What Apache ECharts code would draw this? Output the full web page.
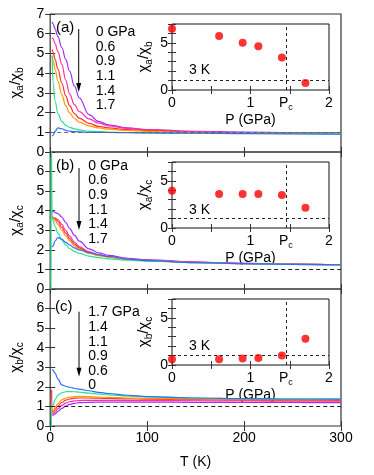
<!DOCTYPE html>
<html><head><meta charset="utf-8">
<script src="https://cdn.jsdelivr.net/npm/echarts@6/dist/echarts.min.js"></script>
<style>html,body{margin:0;padding:0;background:#fff}#c{width:374px;height:475px}</style>
</head><body><div id="c"></div>
<script>
// ---------- DATA ----------
const T = [2,3,5,8,12,16,20,25,30,40,50,60,80,100,150,200,250,300];
const legendA = ['0 GPa','0.6','0.9','1.1','1.4','1.7'];
const legendC = ['1.7 GPa','1.4','1.1','0.9','0.6','0'];
// panel (a) chi_a/chi_b
const a_00 = [6.6,6.5,6.25,5.85,5.3,4.7,4.1,3.35,2.75,1.9,1.55,1.38,1.22,1.14,1.05,1.01,0.99,0.98];
const a_06 = [5.8,5.75,5.5,5.1,4.45,3.65,2.95,2.4,2.05,1.68,1.46,1.33,1.2,1.12,1.03,0.99,0.97,0.96];
const a_09 = [5.2,5.05,4.7,4.2,3.5,2.85,2.35,1.95,1.72,1.45,1.3,1.22,1.13,1.08,1.0,0.97,0.96,0.95];
const a_11 = [4.9,4.65,4.2,3.6,2.9,2.35,1.98,1.7,1.52,1.33,1.22,1.16,1.09,1.05,0.98,0.96,0.95,0.94];
const a_14 = [4.9,3.5,2.6,1.95,1.55,1.35,1.25,1.17,1.12,1.06,1.03,1.01,0.99,0.97,0.95,0.94,0.93,0.93];
const a_17 = [0.8,0.85,1.05,1.22,1.18,1.1,1.06,1.04,1.02,1.0,1.0,0.99,0.98,0.97,0.95,0.93,0.92,0.9];
// panel (b) chi_a/chi_c
const b_00 = [3.96,3.95,3.92,3.85,3.68,3.4,3.1,2.75,2.45,2.05,1.85,1.72,1.57,1.49,1.38,1.31,1.27,1.24];
const b_06 = [3.7,3.65,3.62,3.55,3.3,3.0,2.7,2.4,2.17,1.9,1.76,1.66,1.54,1.47,1.37,1.31,1.27,1.24];
const b_09 = [3.7,3.64,3.58,3.45,3.15,2.85,2.57,2.3,2.1,1.86,1.73,1.64,1.53,1.46,1.36,1.3,1.26,1.24];
const b_11 = [3.65,3.62,3.5,3.3,3.0,2.72,2.47,2.22,2.04,1.82,1.7,1.62,1.51,1.45,1.35,1.3,1.26,1.24];
const b_14 = [3.65,3.5,3.2,2.85,2.5,2.25,2.07,1.92,1.82,1.68,1.6,1.54,1.47,1.42,1.34,1.29,1.26,1.24];
const b_17 = [2.14,2.2,2.45,2.63,2.55,2.38,2.25,2.1,2.0,1.86,1.75,1.66,1.53,1.45,1.35,1.3,1.26,1.24];
const b_14_lowT = [[0.8,-1],[1.2,8]];
// panel (c) chi_b/chi_c
const c_00 = [0.55,0.56,0.62,0.75,0.9,1.02,1.1,1.16,1.19,1.21,1.22,1.22,1.22,1.22,1.21,1.2,1.2,1.19];
const c_06 = [0.62,0.64,0.72,0.88,1.05,1.17,1.24,1.28,1.3,1.31,1.31,1.31,1.3,1.3,1.29,1.28,1.27,1.27];
const c_09 = [0.7,0.72,0.85,1.02,1.2,1.32,1.38,1.42,1.43,1.43,1.42,1.41,1.39,1.37,1.35,1.33,1.32,1.31];
const c_11 = [0.65,0.75,0.95,1.15,1.33,1.43,1.48,1.5,1.51,1.5,1.48,1.46,1.43,1.41,1.38,1.36,1.35,1.34];
const c_14 = [0.98,1.05,1.35,1.58,1.7,1.75,1.76,1.75,1.73,1.68,1.63,1.59,1.53,1.49,1.43,1.4,1.38,1.37];
const c_17 = [2.89,2.85,2.7,2.4,2.1,2.03,1.98,1.93,1.88,1.8,1.72,1.66,1.57,1.5,1.43,1.4,1.38,1.37];
const c_14_lowT = [[1.0,-1],[1.5,0.98]];
const c_09_lowT = [[1.5,1.85],[1.8,0.9]];
// insets at 3 K
const P = [0,0.6,0.9,1.1,1.4,1.7];
const Pc = 1.45;
const inA = [6.5,5.73,5.0,4.65,3.45,0.74];
const inB = [3.94,3.6,3.6,3.6,3.5,2.16];
const inC = [0.6,0.6,0.7,0.74,1.02,2.78];

// ---------- STYLE ----------
const F = 'Liberation Sans';
const COL = ['#9b30ff','#ff2fa8','#ff3030','#ff9900','#30e090','#2f6bff'];
const zip = (xs, ys) => xs.map((x,i)=>[x, ys[i]]);

const chart = echarts.init(document.getElementById('c'), null, {renderer:'canvas'});

const mainTop = [14,152,289], mainH = [138,137,137];
const inTop = [24,162,299];
const grids = [];
mainTop.forEach((t,i)=>grids.push({left:45, width:296, top:t, height:mainH[i], show:true, borderColor:'#333', borderWidth:1.2, backgroundColor:'transparent'}));
inTop.forEach(t=>grids.push({left:172, width:157, top:t, height:66, show:true, borderColor:'#111', borderWidth:1, backgroundColor:'#fff'}));

const tickStyle = {lineStyle:{color:'#333', width:1}};
const rich = {
  n:{fontSize:15, fontFamily:F, color:'#000', lineHeight:20, verticalAlign:'middle'},
  s:{fontSize:10, fontFamily:F, color:'#000', lineHeight:20, verticalAlign:'bottom'},
  p:{fontSize:14, fontFamily:F, color:'#000', lineHeight:18, verticalAlign:'middle'},
  q:{fontSize:9, fontFamily:F, color:'#000', lineHeight:18, verticalAlign:'bottom'}
};
const names = [['a','b'],['a','c'],['b','c']];
const xAxes = [], yAxes = [];
for (let i=0;i<3;i++){
  ['bottom','top'].forEach(pos=>xAxes.push({
    gridIndex:i, type:'value', min:0, max:300, interval:100, position:pos,
    axisLine:{show:false}, splitLine:{show:false},
    axisTick:Object.assign({inside:true, length:5}, tickStyle),
    axisLabel:{show: i===2 && pos==='bottom', fontFamily:F, fontSize:14, color:'#000', margin:5},
    name: (i===2 && pos==='bottom') ? 'T (K)' : '', nameLocation:'middle', nameGap:29,
    nameTextStyle:{fontFamily:F, fontSize:14, color:'#000'}
  }));
  ['left','right'].forEach(pos=>yAxes.push({
    gridIndex:i, type:'value', min:0, max:7, interval:1, position:pos,
    axisLine:{show:false}, splitLine:{show:false},
    axisTick:Object.assign({inside:true, length:5}, tickStyle),
    axisLabel:{show: pos==='left', fontFamily:F, fontSize:14, color:'#000', margin:6,
      formatter: v => (i>0 && v===7) ? '' : String(v)},
    name: pos==='left' ? `{n|χ}{s|${names[i][0]}}{n|/χ}{s|${names[i][1]}}` : '',
    nameLocation:'middle', nameGap:21, nameRotate:90,
    nameTextStyle:{rich}
  }));
}
for (let j=0;j<3;j++){
  const g = 3+j;
  ['bottom','top'].forEach(pos=>xAxes.push({
    gridIndex:g, type:'value', min:0, max:2, interval:0.5, position:pos,
    axisLine:{show:false}, splitLine:{show:false},
    axisTick:Object.assign({inside:true, length:4}, tickStyle),
    axisLabel:{show: pos==='bottom', customValues:[0,1,Pc,2], margin:4,
      formatter: v => Math.abs(v-Pc)<1e-6 ? '{p|P}{q|c}' : '{p|'+v+'}', rich},
    name: pos==='bottom' ? 'P (GPa)' : '', nameLocation:'middle', nameGap:13,
    nameTextStyle:{fontFamily:F, fontSize:14, color:'#000'}
  }));
  ['left','right'].forEach(pos=>yAxes.push({
    gridIndex:g, type:'value', min:0, max:7, interval:1, position:pos,
    axisLine:{show:false}, splitLine:{show:false},
    axisTick:Object.assign({inside:true, length:4}, tickStyle),
    axisLabel:{show: pos==='left', customValues:[0,5], fontFamily:F, fontSize:14, color:'#000', margin:4},
    name: pos==='left' ? `{n|χ}{s|${names[j][0]}}{n|/χ}{s|${names[j][1]}}` : '',
    nameLocation:'middle', nameGap:18, nameRotate:90,
    nameTextStyle:{rich}
  }));
}

const series = [];
const dashed = (color) => ({silent:true, symbol:'none', label:{show:false},
  lineStyle:{type:[4,3], color:color, width:1}, data:[{yAxis:1}]});
function addPanel(i, arrs, extras){
  arrs.forEach((arr,k)=>{
    let data = zip(T, arr);
    if (extras[k]) data = extras[k].concat(data);
    const s = {type:'line', xAxisIndex:2*i, yAxisIndex:2*i, data, showSymbol:false,
      smooth:0.4, smoothMonotone:'x', lineStyle:{color:COL[k], width:1.2}, itemStyle:{color:COL[k]}, z:3};
    if (k===0) s.markLine = dashed(i===0 ? '#666' : '#222');
    series.push(s);
  });
}
addPanel(0, [a_00,a_06,a_09,a_11,a_14,a_17], {});
addPanel(1, [b_00,b_06,b_09,b_11,b_14,b_17], {4:b_14_lowT});
addPanel(2, [c_00,c_06,c_09,c_11,c_14,c_17], {2:c_09_lowT, 4:c_14_lowT});
[inA,inB,inC].forEach((arr,j)=>{
  series.push({type:'scatter', xAxisIndex:6+2*j, yAxisIndex:6+2*j, data:zip(P,arr),
    symbolSize:8, clip:false, itemStyle:{color:'#ff0000'}, z:5,
    markLine:{silent:true, symbol:'none', label:{show:false},
      lineStyle:{type:[3,3], color:'#222', width:1}, data:[{yAxis:1},{xAxis:Pc}]}});
});

const graphic = [];
const txt = (x,y,text,size,extra)=>graphic.push(Object.assign({type:'text', x, y,
  style:{text, fontFamily:F, fontSize:size||14, fill:'#000', verticalAlign:'middle'}}, extra||{}));
txt(56,28.3,'(a)',15); txt(56,166,'(b)',15); txt(55,307,'(c)',15);
const legendBlock = (x,y0,lines)=>graphic.push({type:'text', x, y:y0-7.3,
  style:{text:lines.join('\n'), fontFamily:F, fontSize:14, lineHeight:14.6, fill:'#000', verticalAlign:'top'}});
legendBlock(95.7,32.4,legendA); legendBlock(88.3,166,legendA); legendBlock(88.3,312.6,legendC);
const arrow = (x,y1,y2)=>{
  graphic.push({type:'line', shape:{x1:x,y1:y1,x2:x,y2:y2-4}, style:{stroke:'#000', lineWidth:1}});
  graphic.push({type:'polygon', shape:{points:[[x-2.5,y2-9],[x+2.5,y2-9],[x,y2]]}, style:{fill:'#000'}});
};
arrow(78.7,29,92); arrow(79,168,230); arrow(79,311.7,376.7);
txt(189,70,'3 K',14); txt(189,210,'3 K',14); txt(189,346,'3 K',14);

chart.setOption({animation:false, backgroundColor:'#fff', grid:grids, xAxis:xAxes, yAxis:yAxes, series, graphic});
</script></body></html>
